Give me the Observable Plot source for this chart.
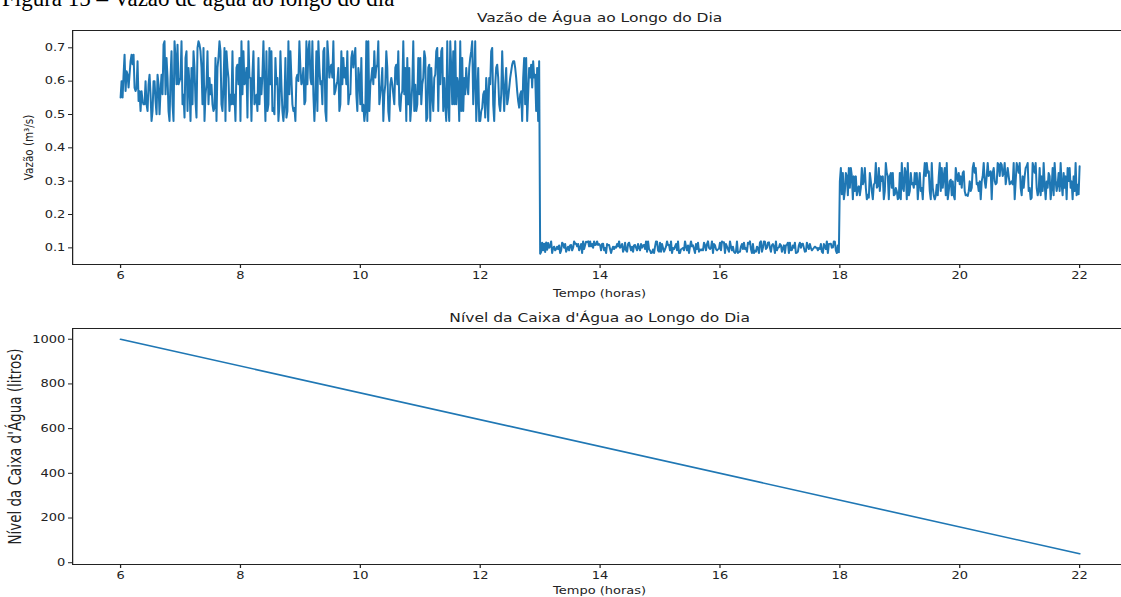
<!DOCTYPE html>
<html><head><meta charset="utf-8">
<script src="https://cdn.jsdelivr.net/npm/d3@7"></script>
<script src="https://cdn.jsdelivr.net/npm/@observablehq/plot@0.6"></script>
<style>
html,body{margin:0;padding:0;background:#fff;overflow:hidden;}
#wrap{position:relative;width:1121px;height:597px;overflow:hidden;background:#fff;}
#caption{position:absolute;left:2px;top:-13px;font-family:"Liberation Serif","Times New Roman",serif;font-size:23px;line-height:23px;color:#000;white-space:nowrap;z-index:2;}
.panel{position:absolute;left:0;}
</style></head><body><div id="wrap"><div id="caption">Figura 15 – Vazão de água ao longo do dia</div></div>
<script>
// ---- data ----
const inicioHoras = 6;        // first sample (h)
const passoMinutos = 1;       // sampling step
const xTicks = [6, 8, 10, 12, 14, 16, 18, 20, 22];
const yTicksVazao = [0.1, 0.2, 0.3, 0.4, 0.5, 0.6, 0.7];
const yTicksNivel = [0, 200, 400, 600, 800, 1000];

// 06:00 – 12:59  (m³/s)
const vazaoManha = [
.55,.60,.55,.62,.68,.57,.63,.62,.58,.62, .66,.68,.65,.68,.58,.57,.58,.66,.54,.57,
.51,.57,.54,.53,.53,.60,.53,.51,.59,.62, .56,.48,.51,.60,.60,.54,.50,.62,.59,.50,
.57,.62,.56,.71,.72,.56,.67,.61,.51,.48, .61,.69,.53,.48,.72,.67,.59,.71,.59,.60,
.61,.72,.53,.56,.49,.67,.69,.51,.64,.59, .48,.64,.53,.69,.64,.54,.49,.70,.72,.71,
.69,.64,.53,.70,.48,.56,.59,.69,.53,.61, .56,.59,.53,.51,.52,.67,.48,.64,.67,.72,
.69,.53,.51,.59,.70,.48,.69,.64,.61,.51, .56,.53,.69,.53,.56,.48,.64,.65,.59,.67,
.48,.72,.56,.69,.59,.60,.64,.49,.72,.61, .61,.48,.62,.69,.53,.54,.56,.51,.67,.53,
.61,.56,.62,.72,.59,.48,.69,.51,.53,.70, .59,.69,.51,.52,.50,.67,.59,.61,.48,.53,
.69,.59,.51,.48,.53,.67,.49,.51,.72,.56, .69,.61,.53,.51,.52,.48,.61,.62,.60,.72,
.64,.59,.60,.64,.53,.54,.72,.59,.69,.72, .61,.59,.72,.56,.48,.56,.69,.51,.72,.64,
.59,.60,.53,.69,.70,.51,.48,.72,.67,.61, .64,.65,.61,.72,.56,.57,.59,.60,.64,.51,
.53,.69,.59,.67,.61,.64,.59,.69,.53,.56, .56,.67,.69,.64,.67,.70,.56,.51,.64,.61,
.53,.67,.51,.53,.48,.51,.72,.48,.72,.51, .59,.61,.64,.59,.69,.61,.64,.65,.72,.53,
.56,.59,.64,.48,.56,.59,.69,.64,.51,.48, .59,.61,.59,.56,.53,.64,.65,.59,.69,.53,
.51,.56,.57,.72,.56,.64,.48,.67,.53,.64, .48,.53,.59,.72,.51,.59,.51,.53,.67,.56,
.67,.53,.59,.61,.69,.67,.48,.49,.64,.65, .48,.64,.56,.51,.61,.62,.69,.70,.51,.67,
.59,.69,.70,.51,.61,.53,.48,.72,.53,.48, .72,.64,.53,.69,.53,.72,.53,.61,.59,.48,
.72,.51,.67,.51,.61,.56,.64,.59,.56,.64, .67,.69,.72,.53,.61,.72,.48,.56,.64,.48,
.48,.51,.52,.56,.57,.49,.61,.56,.48,.61, .59,.69,.70,.53,.48,.59,.64,.65,.61,.53,
.51,.56,.69,.59,.51,.59,.64,.53,.55,.58, .61,.63,.65,.66,.66,.64,.61,.57,.54,.52,
.56,.57,.48,.61,.67,.53,.67,.48,.56,.64, .61,.65,.58,.66,.61,.62,.51,.64,.48,.66
];
// 13:00 – 17:59
const vazaoTarde = [
.082,.088,.116,.092,.113,.087,.117,.094,.115,.100, .104,.120,.084,.100,.104,.092,.096,.104,.096,.108,
.084,.092,.116,.112,.100,.112,.088,.096,.104,.092, .108,.109,.092,.100,.120,.112,.113,.104,.112,.092,
.100,.112,.084,.120,.096,.108,.119,.117,.120,.104, .120,.104,.112,.100,.120,.108,.109,.120,.108,.112,
.108,.092,.112,.113,.092,.100,.084,.112,.108,.109, .096,.084,.096,.104,.096,.104,.100,.112,.104,.120,
.100,.104,.112,.088,.096,.116,.092,.088,.112,.116, .104,.092,.104,.088,.108,.109,.100,.092,.112,.100,
.092,.112,.100,.108,.109,.096,.120,.088,.120,.096, .092,.084,.085,.096,.084,.104,.120,.119,.092,.088,
.116,.088,.112,.100,.088,.096,.104,.120,.108,.109, .092,.120,.084,.100,.096,.104,.112,.092,.120,.084,
.084,.096,.097,.100,.092,.120,.104,.092,.108,.084, .104,.120,.104,.108,.096,.084,.112,.096,.116,.088,
.096,.092,.096,.092,.116,.108,.092,.112,.120,.100, .096,.100,.120,.084,.112,.108,.096,.092,.096,.097,
.116,.092,.120,.116,.117,.084,.112,.104,.096,.088, .120,.104,.092,.104,.088,.084,.088,.120,.084,.088,
.088,.104,.112,.096,.116,.096,.100,.088,.116,.112, .120,.096,.084,.112,.084,.092,.088,.104,.100,.084,
.116,.120,.088,.100,.120,.119,.096,.100,.116,.117, .100,.088,.108,.112,.104,.084,.120,.092,.100,.101,
.112,.108,.088,.100,.108,.084,.108,.109,.116,.084, .116,.092,.093,.108,.100,.116,.084,.085,.088,.108,
.116,.100,.112,.113,.100,.088,.089,.116,.104,.096, .112,.100,.092,.096,.100,.104,.100,.101,.092,.100,
.096,.112,.088,.084,.112,.104,.096,.120,.084,.112, .112,.113,.100,.101,.120,.119,.092,.084,.108,.086
];
// 18:00 – 22:00
const vazaoNoite = [
.300,.340,.260,.325,.245,.270,.325,.315,.257,.340, .280,.340,.315,.245,.315,.270,.315,.257,.280,.285,
.257,.280,.340,.290,.300,.340,.280,.245,.260,.250, .325,.300,.270,.245,.290,.295,.355,.280,.285,.340,
.270,.315,.300,.315,.245,.270,.355,.325,.315,.245, .315,.325,.280,.325,.257,.260,.280,.270,.245,.250,
.325,.245,.355,.280,.270,.340,.325,.245,.355,.257, .270,.325,.290,.295,.280,.325,.290,.325,.245,.290,
.325,.270,.280,.245,.315,.355,.315,.355,.325,.330, .270,.245,.355,.280,.257,.245,.257,.290,.257,.315,
.355,.270,.340,.280,.315,.340,.257,.355,.245,.270, .300,.305,.257,.300,.257,.245,.340,.315,.300,.325,
.290,.315,.280,.325,.330,.270,.257,.260,.255,.270, .300,.270,.280,.340,.355,.325,.340,.290,.295,.270,
.300,.245,.300,.315,.355,.300,.280,.315,.355,.315, .325,.330,.245,.325,.340,.300,.290,.295,.355,.350,
.315,.355,.350,.315,.325,.355,.290,.315,.340,.315, .290,.295,.300,.290,.355,.245,.300,.355,.340,.325,
.355,.280,.257,.315,.280,.315,.340,.345,.355,.270, .280,.245,.250,.355,.340,.325,.355,.280,.257,.270,
.340,.257,.315,.270,.355,.290,.245,.300,.280,.325, .315,.245,.280,.340,.257,.355,.300,.270,.290,.325,
.270,.355,.290,.257,.325,.280,.315,.245,.340,.300, .340,.280,.300,.245,.315,.270,.355,.257,.290,.260,
.345
];
// water tank level (litres)
const tempoNivel = [6, 22];
const nivel = [1000, 40];

// ---- build tables ----
const vazao = [...vazaoManha, ...vazaoTarde, ...vazaoNoite];
const dadosVazao = vazao.map((v, i) => ({t: inicioHoras + i * passoMinutos / 60, v}));
const dadosNivel = tempoNivel.map((t, i) => ({t, v: nivel[i]}));

function pad(ext) { const d = (ext[1] - ext[0]) * 0.05; return [ext[0] - d, ext[1] + d]; }

// ---- layout: the figure is stretched horizontally ----
const SX = 1.25, W = 1121, W0 = W / SX, ML = 72 / SX;
const xDom = [5.2, 5.2 + (W - 72) / 59.94];

function panel(o) {
  const yDom = pad(d3.extent(o.data, d => d.v));
  const p = Plot.plot({
    width: W0, height: o.height,
    marginLeft: ML, marginRight: 0, marginTop: o.marginTop, marginBottom: o.marginBottom,
    style: {fontFamily: "'DejaVu Sans', sans-serif", fontSize: "10.4px", color: "#222", background: "#fff", overflow: "visible"},
    x: {domain: xDom, label: null},
    y: {domain: yDom, label: null},
    marks: [
      Plot.ruleX([xDom[0]], {stroke: "#222", strokeWidth: 1}),
      Plot.ruleY(yDom, {stroke: "#222", strokeWidth: 1}),
      Plot.axisX({ticks: xTicks, tickSize: 4, tickPadding: 3, label: null}),
      Plot.axisY({ticks: o.yTicks, tickFormat: o.yFormat, tickSize: 3.2, tickPadding: 2.6, label: null}),
      Plot.line(o.data, {x: "t", y: "v", stroke: "#1f77b4", strokeWidth: 1.6}),
      Plot.text([o.title], {text: d => d, frameAnchor: "top", textAnchor: "middle", dx: 2, dy: o.titleDy, fontSize: 12.4, lineAnchor: "middle", fill: "#222"}),
      Plot.text(["Tempo (horas)"], {text: d => d, frameAnchor: "bottom", textAnchor: "middle", dx: 2, dy: o.xlabelDy, lineAnchor: "middle", fill: "#222"}),
      Plot.text([o.ylabel], {text: d => d, frameAnchor: "left", textAnchor: "middle", dx: o.ylabelDx, rotate: -90, lineAnchor: "middle", fontSize: o.ylabelSize, fill: "#222"})
    ]
  });
  p.setAttribute("preserveAspectRatio", "none");
  p.style.width = W + "px";
  p.style.height = o.height + "px";
  p.style.maxWidth = "none";
  p.classList.add("panel");
  p.style.top = o.top + "px";
  return p;
}

const wrap = document.getElementById("wrap");
wrap.appendChild(panel({
  data: dadosVazao, yTicks: yTicksVazao, yFormat: d3.format(".1f"),
  title: "Vazão de Água ao Longo do Dia", ylabel: "Vazão (m³/s)", ylabelDx: 28 / SX - ML, ylabelSize: 10.4,
  height: 300, marginTop: 30, marginBottom: 36, top: 0, titleDy: -12, xlabelDy: 29
}));
wrap.appendChild(panel({
  data: dadosNivel, yTicks: yTicksNivel, yFormat: d3.format("d"),
  title: "Nível da Caixa d'Água ao Longo do Dia", ylabel: "Nível da Caixa d'Água (litros)", ylabelDx: 15 / SX - ML, ylabelSize: 13.5,
  height: 297, marginTop: 28, marginBottom: 33, top: 300, titleDy: -10, xlabelDy: 26
}));
</script></body></html>
